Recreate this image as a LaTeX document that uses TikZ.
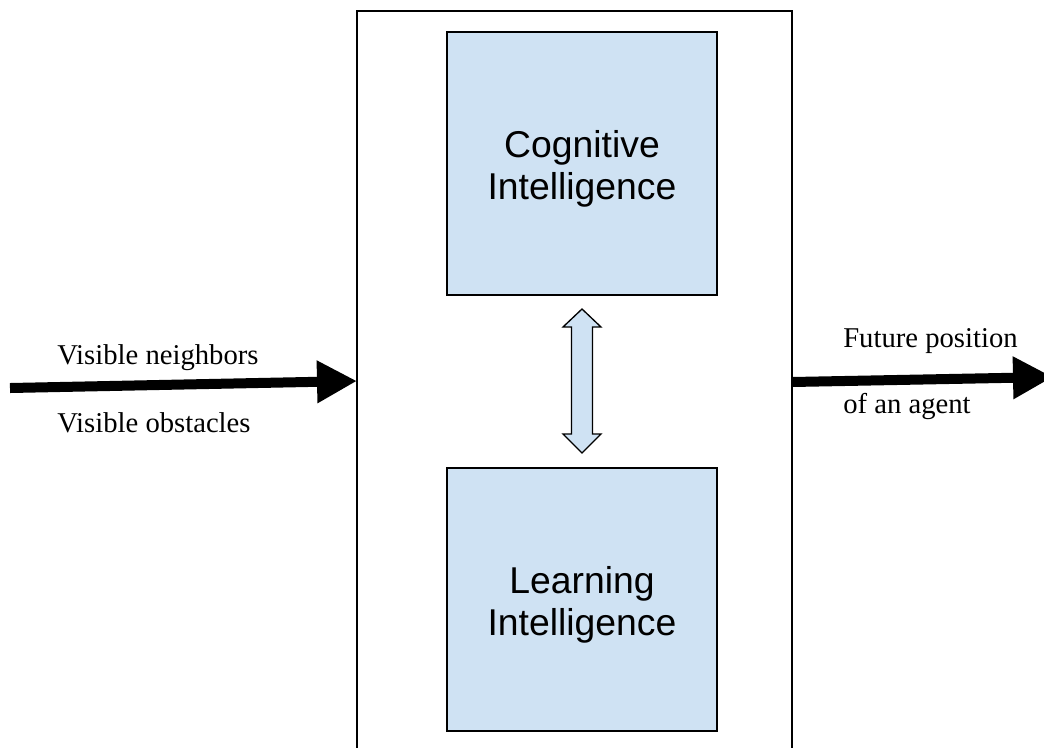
\documentclass[tikz,border=0pt]{standalone}
\usepackage{fontspec}
\setmainfont{Liberation Serif}
\newfontfamily\boxfont{Liberation Sans}
\usetikzlibrary{arrows.meta,calc}
\definecolor{paleblue}{RGB}{207,226,243}
\tikzset{
  frame/.style={draw=black,line width=1.5pt,outer sep=0pt,inner sep=0pt},
  module/.style={draw=black,fill=paleblue,line width=1.5pt,outer sep=0pt,
    minimum width=202.5pt,minimum height=197.25pt},
  moduletext/.style={align=center,inner sep=0pt,yshift=-4pt,
    font=\boxfont\fontsize{28}{32}\selectfont},
  flow/.style={line width=7.5pt,-{Triangle[length=30pt,width=30pt]}},
  exchange/.style={draw=black,fill=paleblue,line width=1pt,line join=miter},
  caption/.style={anchor=base west,inner sep=0pt,font=\fontsize{21.5}{24}\selectfont}
}
\begin{document}
\begin{tikzpicture}[x=0.75pt,y=-0.75pt]
  \useasboundingbox (0,0) rectangle (1044,747);
  \clip (0,0) rectangle (1044,747);

  % agent frame (continues below the lower edge)
  \node[frame,minimum width=326.25pt,minimum height=569.25pt] (agent) at (574.5,390.5) {};

  % the two modules
  \node[module,label={[moduletext]center:Cognitive\\Intelligence}] (cog) at (582,163.5) {};
  \node[module,label={[moduletext]center:Learning\\Intelligence}] (learn) at (582,599.5) {};

  % two-way exchange between the modules
  \draw[exchange] ($(cog.south)+(0,14)$) -- ++(19,18) -- ++(-8.5,0) -- ++(0,107)
    -- ++(8.5,0) -- ++(-19,19) -- ++(-19,-19) -- ++(8.5,0) -- ++(0,-107)
    -- ++(-8.5,0) -- cycle;

  % inputs and output
  \coordinate (src) at (10,388);
  \coordinate (dst) at (1053,377);
  \draw[flow] (src) -- ($(agent.north west)+(0,370)$);
  \draw[flow] ($(agent.north east)+(0,371)$) -- (dst);

  \node[caption] (inA) at (57,364) {Visible neighbors};
  \node[caption] (inB) at (57,432) {Visible obstacles};
  \node[caption] (outA) at (843,347) {Future position};
  \node[caption] (outB) at (843,413) {of an agent};
\end{tikzpicture}
\end{document}
